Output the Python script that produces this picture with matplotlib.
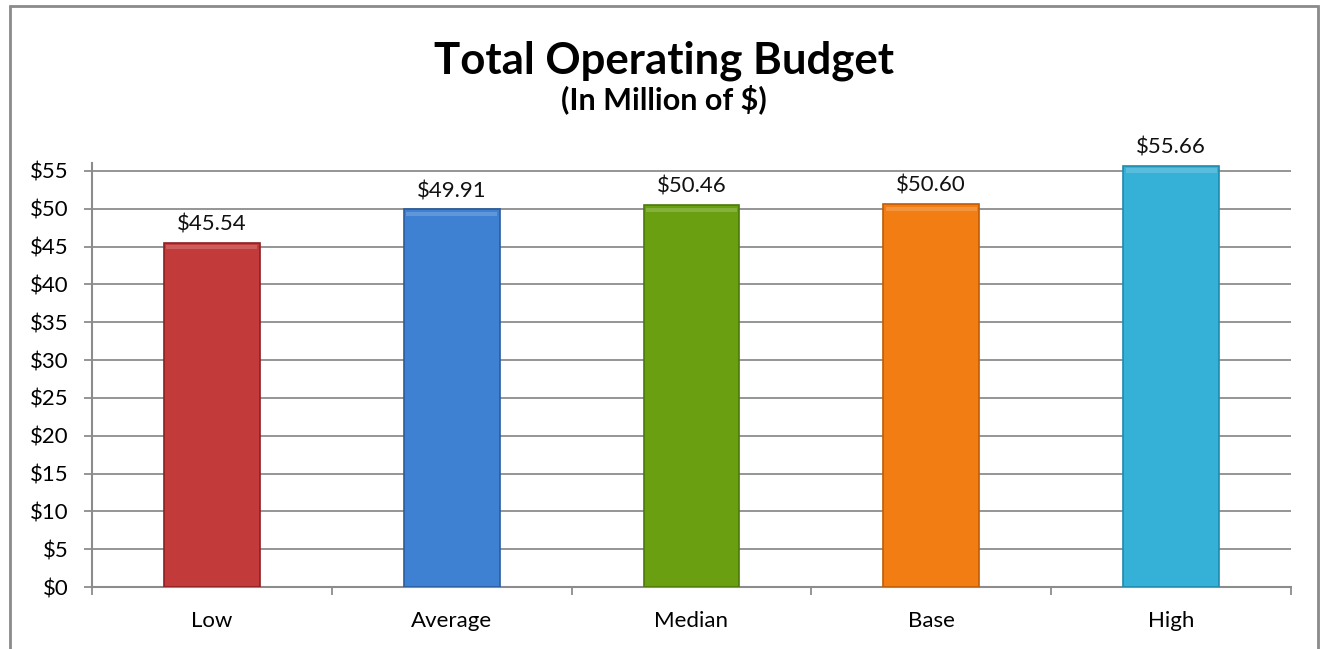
import matplotlib
matplotlib.use("Agg")
import matplotlib.pyplot as plt
from matplotlib.patches import Rectangle
from matplotlib.ticker import FixedLocator, FuncFormatter

plt.rcParams['font.family'] = ['Lato', 'DejaVu Sans']

# Budget scenarios (millions of dollars)
categories = ["Low", "Average", "Median", "Base", "High"]
budget = [45.54, 49.91, 50.46, 50.60, 55.66]
bar_colors = ["#C23A3A", "#3E80D2", "#6A9F12", "#F27D12", "#35B0D6"]
edge_colors = ["#8E1F22", "#2A5C9E", "#4C7A08", "#C05C05", "#1F8AAE"]
y_ticks = list(range(0, 60, 5))

fig = plt.figure(figsize=(13.22, 6.49), dpi=100)
ax = fig.add_axes([92 / 1322, 1 - 587 / 649, (1291 - 92) / 1322, 0.6527])

x = range(len(categories))
bars = ax.bar(x, budget, width=0.4, color=bar_colors, edgecolor=edge_colors,
              linewidth=1.2, zorder=3)

# lighter strip along the top of each bar for the bevel look
for b in bars:
    ax.add_patch(Rectangle((b.get_x() + 0.01, b.get_height() - 0.9), b.get_width() - 0.02, 0.6,
                           color="white", alpha=0.18, lw=0, zorder=4))

for xi, v in zip(x, budget):
    ax.annotate(f"${v:.2f}", (xi, v), xytext=(0, 6), textcoords="offset points",
                ha="center", va="bottom", fontsize=16, color="#111111")

ax.set_xlim(-0.5, len(categories) - 0.5)
ax.set_ylim(0, 56)
ax.yaxis.set_major_locator(FixedLocator(y_ticks))
ax.yaxis.set_major_formatter(FuncFormatter(lambda v, p: f"${v:.0f}"))
ax.grid(axis="y", color="#8C8C8C", linewidth=1.3, zorder=0)

ax.set_xticks(list(x))
ax.set_xticklabels(categories)
ax.xaxis.set_minor_locator(FixedLocator([i - 0.5 for i in range(len(categories) + 1)]))
ax.tick_params(axis="x", which="major", length=0, pad=17, labelsize=16)
ax.tick_params(axis="x", which="minor", length=6, width=1.3, color="#8C8C8C", direction="out")
ax.tick_params(axis="y", length=6, width=1.3, color="#8C8C8C", pad=11, labelsize=16)

for s in ["top", "right"]:
    ax.spines[s].set_visible(False)
for s in ["left", "bottom"]:
    ax.spines[s].set_color("#8C8C8C")
    ax.spines[s].set_linewidth(1.5)

fig.text(0.502, 0.906, "Total Operating Budget", ha="center", va="center",
         fontsize=31.5, fontweight="bold")
fig.text(0.502, 0.847, "(In Million of $)", ha="center", va="center",
         fontsize=22, fontweight="bold")

# chart area border
fig.patches.append(Rectangle((10 / 1322, -0.1), (1318 - 10) / 1322, 1.1 - 6 / 649,
                             transform=fig.transFigure, fill=False,
                             edgecolor="#8A8A8A", linewidth=2))

fig.savefig("out.png", dpi=100)
